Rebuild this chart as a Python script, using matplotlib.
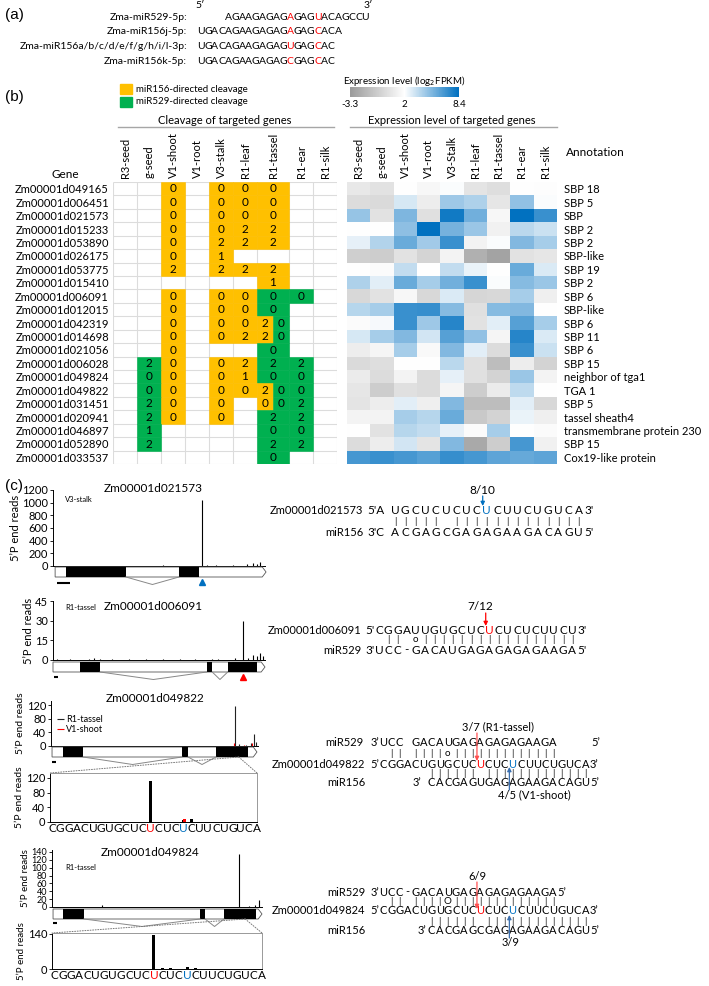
import numpy as np
import matplotlib.pyplot as plt
from matplotlib.colors import LinearSegmentedColormap, TwoSlopeNorm
from matplotlib.patches import ConnectionPatch, Rectangle, Polygon

plt.rcParams['font.family'] = ['Lato', 'DejaVu Sans']

W, H = 709, 986

# ---------------- panel (a) data
mir_names = ['Zma-miR529-5p:', 'Zma-miR156j-5p:',
             'Zma-miR156a/b/c/d/e/f/g/h/i/l-3p:', 'Zma-miR156k-5p:']
mir_seqs = ['AGAAGAGAGAGAGUACAGCCU', 'UGACAGAAGAGAGAGAGCACA',
            'UGACAGAAGAGAGUGAGCAC', 'UGACAGAAGAGAGCGAGCAC']
mir_offsets = [4, 0, 0, 0]
mir_red = [[9, 13], [13, 17], [13, 17], [13, 17]]

# ---------------- panel (b) data
tissues_cleave = ['R3-seed', 'g-seed', 'V1-shoot', 'V1-root', 'V3-stalk',
                  'R1-leaf', 'R1-tassel', 'R1-ear', 'R1-silk']
tissues_expr = ['R3-seed', 'g-seed', 'V1-shoot', 'V1-root', 'V3-Stalk',
                'R1-leaf', 'R1-tassel', 'R1-ear', 'R1-silk']
genes = ['Zm00001d049165', 'Zm00001d006451', 'Zm00001d021573', 'Zm00001d015233',
         'Zm00001d053890', 'Zm00001d026175', 'Zm00001d053775', 'Zm00001d015410',
         'Zm00001d006091', 'Zm00001d012015', 'Zm00001d042319', 'Zm00001d014698',
         'Zm00001d021056', 'Zm00001d006028', 'Zm00001d049824', 'Zm00001d049822',
         'Zm00001d031451', 'Zm00001d020941', 'Zm00001d046897', 'Zm00001d052890',
         'Zm00001d033537']
annotations = ['SBP 18', 'SBP 5', 'SBP', 'SBP 2', 'SBP 2', 'SBP-like', 'SBP 19',
               'SBP 2', 'SBP 6', 'SBP-like', 'SBP 6', 'SBP 11', 'SBP 6', 'SBP 15',
               'neighbor of tga1', 'TGA 1', 'SBP 5', 'tassel sheath4',
               'transmembrane protein 230', 'SBP 15', 'Cox19-like protein']
# o = miR156-directed, g = miR529-directed, number = degradome category
cleavage = [
    ['', '', 'o0', '', 'o0', 'o0', 'o0', '', ''],
    ['', '', 'o0', '', 'o0', 'o0', 'o0', '', ''],
    ['', '', 'o0', '', 'o0', 'o0', 'o0', '', ''],
    ['', '', 'o0', '', 'o0', 'o2', 'o2', '', ''],
    ['', '', 'o0', '', 'o2', 'o2', 'o2', '', ''],
    ['', '', 'o0', '', 'o1', '', '', '', ''],
    ['', '', 'o2', '', 'o2', 'o2', 'o2', '', ''],
    ['', '', '', '', '', '', 'o1', '', ''],
    ['', '', 'o0', '', 'o0', 'o0', 'g0', 'g0', ''],
    ['', '', 'o0', '', 'o0', 'o0', 'g0', '', ''],
    ['', '', 'o0', '', 'o0', 'o0', 'o2|g0', '', ''],
    ['', '', 'o0', '', 'o0', 'o2', 'o2|g0', '', ''],
    ['', '', 'o0', '', '', '', 'g0', '', ''],
    ['', 'g2', 'o0', '', 'o0', 'o2', 'g2', 'g2', ''],
    ['', 'g0', 'o0', '', 'o0', 'o1', 'g0', 'g0', ''],
    ['', 'g0', 'o0', '', 'o0', 'o0', 'o2|g0', 'g0', ''],
    ['', 'g2', 'o0', '', 'o0', '', 'o0|g0', 'g2', ''],
    ['', 'g2', 'o0', '', 'o0', '', 'g2', 'g2', ''],
    ['', 'g1', '', '', '', '', 'g0', 'g0', ''],
    ['', 'g2', '', '', '', '', 'g2', 'g2', ''],
    ['', '', '', '', '', '', 'g0', '', ''],
]
expr = np.array([
    [0.8, 0.5, 2.0, 1.6, 2.1, 0.6, 0.3, 2.0, 1.9],
    [0.2, 0.1, 3.0, 1.1, 4.4, 4.0, 0.7, 4.7, 2.1],
    [4.6, 0.5, 5.2, 0.4, 7.9, 5.5, 1.6, 8.3, 6.9],
    [2.0, 2.0, 4.8, 8.3, 5.4, 4.5, 1.3, 3.7, 3.3],
    [2.6, 3.9, 5.7, 4.3, 6.9, 1.4, 2.1, 5.1, 4.2],
    [-0.5, -0.6, 0.5, -0.2, 1.4, -2.1, -2.8, 0.5, 0.7],
    [2.0, 1.8, 3.5, 2.0, 3.5, 2.5, 2.0, 5.7, 2.9],
    [4.0, 2.7, 5.7, 4.2, 5.5, 6.9, 2.1, 5.0, 4.5],
    [0.0, 0.5, 1.6, 0.0, 2.9, -0.1, 0.0, 4.2, 1.2],
    [3.8, 4.2, 6.9, 7.0, 5.0, 0.4, 5.0, 5.1, 2.0],
    [1.8, 2.2, 6.9, 4.4, 7.4, 0.5, 2.7, 6.2, 4.2],
    [3.0, 4.2, 5.1, 3.1, 6.2, 4.7, 1.5, 7.4, 2.9],
    [1.1, 1.5, 4.2, 1.7, 5.1, 2.7, 0.2, 6.9, 3.3],
    [0.1, 0.3, 2.0, 2.0, 3.7, 0.4, -1.4, 1.1, -0.3],
    [1.0, 0.2, 1.4, 0.2, 2.6, 0.4, -0.3, 4.5, 1.4],
    [0.7, -0.6, 0.4, 0.2, 1.5, -0.6, 1.0, 3.6, 2.0],
    [0.6, 1.1, 2.7, 1.2, 5.1, -1.4, -1.4, 2.7, 0.0],
    [1.4, 1.4, 4.2, 3.8, 5.7, -0.8, -0.3, 2.5, 1.2],
    [2.0, 0.5, 3.8, 3.5, 2.6, 1.8, 4.2, 2.0, 1.8],
    [0.2, 1.1, 3.1, 0.6, 5.1, -2.5, -0.6, 6.6, 1.3],
    [6.6, 6.9, 6.6, 6.2, 7.0, 6.6, 6.0, 5.8, 6.0],
])
expr_min, expr_mid, expr_max = -3.3, 2, 8.4

# ---------------- panel (c) data
reads1_pos = [52, 70.3, 72.6, 77, 85, 91.5, 94.3, 96, 97.6]
reads1_val = [15, 1050, 20, 15, 20, 30, 40, 25, 60]
reads2_pos = [2, 8, 17, 19.5, 22, 28, 36, 44, 52, 60, 67, 75, 78, 86, 89.6,
              92, 94.5, 96, 97.5, 99]
reads2_val = [1, 1, 1, 1.5, 1, 0.8, 1, 0.8, 0.8, 1, 0.8, 1, 1, 1.5, 30,
              1.5, 4, 3, 5, 3]
reads3_tassel_pos = [88.8, 91, 94, 96.5, 98, 99]
reads3_tassel_val = [118, 5, 4, 10, 35, 12]
reads3_shoot_pos = [88.5, 93, 97]
reads3_shoot_val = [10, 4, 8]
reads4_pos = [24, 89, 94, 96.5, 98.6]
reads4_val = [5, 135, 3, 5, 18]

model1_span, model1_exons = (1, 100.5), [(6.1, 34.4), (59.4, 68.9)]
model2_span, model2_exons = (0, 100), [(12.7, 22.2), (72.5, 75.1), (82.4, 96.1)]
model3_span, model3_exons = (0.5, 99.5), [(5.8, 15.5), (63.3, 66.2), (79.7, 95.2)]
model4_span, model4_exons = (0.5, 100), [(5.2, 15.2), (70.5, 72.9), (81.9, 97.1)]
cut1, cut2, zoom3_at, zoom4_at = 70.3, 89.6, 90.7, 92.0

site_seq = 'CGGACUGUGCUCUCUCUCUUCUGUCA'
site_red, site_blue = 12, 16
zoom3_tassel_idx = [12, 13, 14, 16, 17, 19]
zoom3_tassel_val = [110, 1, 1, 6, 8, 1]
zoom3_shoot_idx = [12, 16]
zoom3_shoot_val = [1, 9]
zoom4_idx = [11, 12, 13, 14, 16, 17]
zoom4_val = [1, 135, 2, 2, 6, 3]

ORANGE, GREEN = '#FFC000', '#00B050'
RED, BLUE = '#FF0000', '#0070C0'

fig = plt.figure(figsize=(W / 100, H / 100), dpi=100)


def px_axes(x0, y0, x1, y1):
    return fig.add_axes([x0 / W, 1 - y1 / H, (x1 - x0) / W, (y1 - y0) / H])


# ---------------- (b) cleavage table
col_w = [24, 24, 24, 24, 24, 24, 32, 24, 24]
edges = np.concatenate([[0], np.cumsum(col_w)])
nrow = len(genes)
tab = px_axes(113, 182, 337, 464)
tab.set_xlim(0, edges[-1])
tab.set_ylim(nrow, 0)
for s in tab.spines.values():
    s.set_visible(False)
tab.vlines(edges, 0, nrow, color='#dcdcdc', lw=0.8, zorder=1)
tab.hlines(np.arange(nrow + 1), 0, edges[-1], color='#dcdcdc', lw=0.8, zorder=1)
fills = {'o': ORANGE, 'g': GREEN}
for r, row in enumerate(cleavage):
    for c, cell in enumerate(row):
        if not cell:
            continue
        parts = cell.split('|')
        w = col_w[c] / len(parts)
        for k, p in enumerate(parts):
            x0 = edges[c] + k * w
            tab.bar(x0, 1, width=w, bottom=r, align='edge', color=fills[p[0]],
                    edgecolor=fills[p[0]], lw=0.4, zorder=2)
            tab.text(x0 + w / 2, r + 0.52, p[1:], ha='center', va='center',
                     fontsize=8.5, zorder=3)
tab.xaxis.tick_top()
tab.set_xticks((edges[:-1] + edges[1:]) / 2, tissues_cleave, rotation=90, fontsize=8)
tab.set_yticks(np.arange(nrow) + 0.5, genes, fontsize=8)
tab.tick_params(length=0, pad=3)

# ---------------- (b) expression heatmap
cmap = LinearSegmentedColormap.from_list(
    'expr', [(0, '#9a9a9a'), (0.5, '#ffffff'), (1, BLUE)])
norm = TwoSlopeNorm(vmin=expr_min, vcenter=expr_mid, vmax=expr_max)
hm = px_axes(347, 182, 557, 464)
im = hm.imshow(expr, cmap=cmap, norm=norm, aspect='auto', interpolation='nearest')
for s in hm.spines.values():
    s.set_visible(False)
hm.xaxis.tick_top()
hm.yaxis.tick_right()
hm.set_xticks(range(len(tissues_expr)), tissues_expr, rotation=90, fontsize=8)
hm.set_yticks(range(nrow), annotations, fontsize=8)
hm.tick_params(length=0, pad=3)
hm.tick_params(axis='y', pad=5)

cax = px_axes(350, 87, 459, 97)
cb = fig.colorbar(im, cax=cax, orientation='horizontal')
cb.set_ticks([expr_min, expr_mid, expr_max])
cb.set_ticklabels(['-3.3', '2', '8.4'])
cb.outline.set_visible(False)
cax.tick_params(length=0, labelsize=7, pad=2)


# ---------------- (c) read plots and gene models
def reads_axes(box, ymax, yticks, tick_size=8, label_size=8):
    ax = px_axes(*box)
    ax.set_xlim(0, 100)
    ax.set_ylim(0, ymax)
    ax.set_yticks(yticks)
    ax.set_xticks([])
    ax.spines[['top', 'right']].set_visible(False)
    for s in ax.spines.values():
        s.set_linewidth(0.7)
    ax.tick_params(axis='y', length=2.5, width=0.6, labelsize=tick_size, pad=1)
    ax.set_ylabel('5’P end reads', fontsize=label_size, labelpad=1)
    return ax


def gene_model(box, span, exons, cut=None, cut_color=None, bar=(0.5, 2.5), bar_y=-0.5):
    ax = px_axes(*box)
    ax.set_xlim(0, 100)
    ax.set_ylim(-1, 1)
    ax.axis('off')
    s, e = span
    ax.add_patch(Polygon([(s, 0), (e - 1.8, 0), (e, 0.5), (e - 1.8, 1), (s, 1)],
                         closed=True, fc='white', ec='#555555', lw=0.6, clip_on=False))
    starts = [a for a, b in exons]
    widths = [b - a for a, b in exons]
    ax.bar(starts, 1, width=widths, bottom=0, align='edge', color='black', lw=0)
    for (a0, a1), (b0, b1) in zip(exons[:-1], exons[1:]):
        ax.plot([a1, (a1 + b0) / 2, b0], [0, -0.75, 0], color='#888888', lw=0.7,
                clip_on=False)
    ax.hlines(bar_y, bar[0], bar[1], color='black', lw=1.5)
    if cut is not None:
        ax.plot(cut, -0.5, marker='^', color=cut_color, ms=4, clip_on=False)
    return ax


def zoom_axes(box, seq, ymax, yticks, label_size=8):
    ax = px_axes(*box)
    ax.set_xlim(-0.25, len(seq) - 1)
    ax.set_ylim(0, ymax)
    ax.set_yticks(yticks)
    ax.set_xticks(range(len(seq)), list(seq))
    ax.tick_params(axis='x', length=0, pad=1, labelsize=8.5)
    ax.tick_params(axis='y', length=2.5, width=0.6, labelsize=8, pad=1)
    for i, t in enumerate(ax.get_xticklabels()):
        if i == site_red:
            t.set_color(RED)
        elif i == site_blue:
            t.set_color(BLUE)
    for side in ['top', 'right']:
        ax.spines[side].set_color('#999999')
    for s in ax.spines.values():
        s.set_linewidth(0.7)
    ax.set_ylabel('5’P end reads', fontsize=label_size, labelpad=1)
    return ax


a1 = reads_axes((53, 490, 265, 566), 1200, range(0, 1201, 200))
a1.vlines(reads1_pos, 0, reads1_val, color='black', lw=0.8)
gene_model((53, 567, 265, 587), model1_span, model1_exons, cut1, BLUE,
           bar=(2, 8), bar_y=-0.6)

a2 = reads_axes((53, 601, 265, 660), 45, [0, 15, 30, 45])
a2.vlines(reads2_pos, 0, reads2_val, color='black', lw=0.8)
gene_model((53, 662, 265, 682), model2_span, model2_exons, cut2, RED,
           bar=(0.5, 2.2), bar_y=-0.5)

a3 = reads_axes((51, 701, 258, 746), 132, [0, 40, 80, 120], label_size=7.5)
a3.vlines(reads3_tassel_pos, 0, reads3_tassel_val, color='#222222', lw=0.8,
          label='R1-tassel')
a3.vlines(reads3_shoot_pos, 0, reads3_shoot_val, color=RED, lw=0.8, label='V1-shoot')
a3.legend(loc='upper left', bbox_to_anchor=(0.03, 0.68), frameon=False, fontsize=6.5,
          handlelength=0.8, handletextpad=0.2, labelspacing=0.05, borderpad=0,
          borderaxespad=0)
m3 = gene_model((51, 747, 258, 767), model3_span, model3_exons)
z3 = zoom_axes((50, 773, 257, 822), site_seq, 133, [0, 40, 80, 120], label_size=7.5)
z3.bar(zoom3_tassel_idx, zoom3_tassel_val, width=0.35, color='black')
z3.bar(np.array(zoom3_shoot_idx) + 0.12, zoom3_shoot_val, width=0.35, color=RED)

a4 = reads_axes((52, 850, 262, 907), 145, range(0, 141, 20), tick_size=6.5,
                label_size=7)
a4.vlines(reads4_pos, 0, reads4_val, color='black', lw=0.8)
m4 = gene_model((52, 909, 262, 929), model4_span, model4_exons, bar_y=-0.35)
z4 = zoom_axes((52, 933, 262, 969), site_seq, 142, [0, 140], label_size=7)
z4.bar(zoom4_idx, zoom4_val, width=0.35, color='black')

for m, z, at in [(m3, z3, zoom3_at), (m4, z4, zoom4_at)]:
    for corner in [(0, 1), (1, 1)]:
        con = ConnectionPatch(xyA=(at, 0), coordsA=m.transData, xyB=corner,
                              coordsB=z.transAxes, color='#777777', lw=0.7, ls=':')
        fig.add_artist(con)

# ---------------- overlay for text
ov = fig.add_axes([0, 0, 1, 1])
ov.set_xlim(0, W)
ov.set_ylim(H, 0)
ov.axis('off')

lab_font = ['Liberation Sans', 'DejaVu Sans']
ov.text(5, 15, '(a)', fontsize=11, va='center', family=lab_font)
ov.text(5, 97, '(b)', fontsize=11, va='center', family=lab_font)
ov.text(5, 486, '(c)', fontsize=11, va='center', family=lab_font)

# panel (a)
pitch_a, x_a = 6.85, 201
ov.text(200, 5, '5′', fontsize=7.5, ha='center', va='center')
ov.text(368, 5, '3′', fontsize=7.5, ha='center', va='center')
for k, (name, seq) in enumerate(zip(mir_names, mir_seqs)):
    y = [17, 32, 46.5, 61][k]
    ov.text(187, y, name, fontsize=7.5, ha='right', va='center')
    for i, ch in enumerate(seq):
        ov.text(x_a + (i + mir_offsets[k]) * pitch_a, y, ch, fontsize=7.5, ha='center',
                va='center', color=RED if i in mir_red[k] else 'black')

# panel (b) legend / headings
ov.add_patch(Rectangle((120, 84), 12, 10, color=ORANGE))
ov.add_patch(Rectangle((120, 97), 12, 10, color=GREEN))
ov.text(136, 89, 'miR156-directed cleavage', fontsize=7, va='center')
ov.text(136, 102, 'miR529-directed cleavage', fontsize=7, va='center')
ov.text(404, 81, r'Expression level (log$_2$FPKM)', fontsize=7, ha='center', va='center')
ov.text(225, 121, 'Cleavage of targeted genes', fontsize=8, ha='center', va='center')
ov.plot([118, 334], [127, 127], color='#a6a6a6', lw=1)
ov.text(452, 121, 'Expression level of targeted genes', fontsize=8, ha='center',
        va='center')
ov.plot([350, 557], [127, 127], color='#a6a6a6', lw=1)
ov.text(65, 175, 'Gene', fontsize=8.5, ha='center', va='center')
ov.text(566, 153, 'Annotation', fontsize=8.5, va='center')

# panel (c) titles
ov.text(153, 488, 'Zm00001d021573', fontsize=8.5, ha='center', va='center')
ov.text(65, 500, 'V3-stalk', fontsize=5.5, va='center')
ov.text(65, 607, 'R1-tassel', fontsize=5.5, va='center')
ov.text(153, 607, 'Zm00001d006091', fontsize=8.5, ha='center', va='center')
ov.text(155, 699, 'Zm00001d049822', fontsize=8.5, ha='center', va='center')
ov.text(150, 853, 'Zm00001d049824', fontsize=8.5, ha='center', va='center')
ov.text(65, 867, 'R1-tassel', fontsize=5.5, va='center')


def seq_text(x0, y, seq, pitch, size=8, colors=None, prefix=None, suffix=None,
             gap=0.55, suffix_at=None):
    colors = colors or {}
    idx = [i for i, ch in enumerate(seq) if ch != ' ']
    for i in idx:
        ov.text(x0 + i * pitch, y, seq[i], ha='center', va='center', fontsize=size,
                color=colors.get(i, 'black'))
    if prefix:
        ov.text(x0 + (idx[0] - gap) * pitch, y, prefix, ha='right', va='center',
                fontsize=size)
    if suffix:
        at = suffix_at if suffix_at is not None else idx[-1] + 0.55
        ov.text(x0 + at * pitch, y, suffix, ha='left', va='center', fontsize=size)


def arrow(x, y0, y1, color):
    ov.annotate('', xy=(x, y1), xytext=(x, y0),
                arrowprops=dict(arrowstyle='-|>', color=color, lw=0.9, shrinkA=0,
                                shrinkB=0, mutation_scale=6))


# alignment 1
x0, p = 395, 10.2
ov.text(363, 510, 'Zm00001d021573', fontsize=8, ha='right', va='center')
ov.text(363, 533, 'miR156', fontsize=8, ha='right', va='center')
seq_text(x0, 510, 'UGCUCUCUCUCUUCUGUCA', p, 8.5, {9: BLUE}, "5'A", "3'", gap=1.0)
seq_text(x0, 522, '||||| |||||||||||||', p, 7)
seq_text(x0, 533, 'ACGAGCGAGAGAAGACAGU', p, 8.5, None, "3'C", "5'", gap=1.0)
ov.text(482, 491, '8/10', fontsize=8.5, ha='center', va='center')
arrow(x0 + 8.6 * p, 496, 506, BLUE)

# alignment 2
x0, p = 379, 9.2
ov.text(361, 630, 'Zm00001d006091', fontsize=8, ha='right', va='center')
ov.text(361, 650, 'miR529', fontsize=8, ha='right', va='center')
seq_text(x0, 630, 'CGGAUUGUGCUCUCUCUCUUCU', p, 8.5, {12: RED}, "5'", "3'", gap=0.5)
seq_text(x0, 640, ' || o|||||||||||||||||', p, 7)
seq_text(x0, 650, 'UCC-GACAUGAGAGAGAGAAGA', p, 8.5, None, "3'", "5'", gap=0.5)
ov.text(480, 607, '7/12', fontsize=8.5, ha='center', va='center')
arrow(x0 + 11.6 * p, 613, 626, RED)

# alignment 3
x0, p = 383, 8.1
ov.text(364, 743, 'miR529', fontsize=8, ha='right', va='center')
ov.text(365, 764, 'Zm00001d049822', fontsize=8, ha='right', va='center')
ov.text(365, 783, 'miR156', fontsize=8, ha='right', va='center')
seq_text(x0, 743, 'UCC GACAUGAGAGAGAGAAGA', p, 8, None, '3’', '5’', suffix_at=25.7,
         gap=0.5)
seq_text(x0, 753, ' || ||||o|||||||||||||', p, 7)
seq_text(x0, 764, site_seq, p, 8, {site_red: RED, site_blue: BLUE}, '5’', '3’', gap=0.5)
seq_text(x0, 773, '      |||||| |||||||||||||', p, 7)
seq_text(x0, 783, '      CACGAGUGAGAGAAGACAGU', p, 8, None, '3’', '5’', gap=1.3)
ov.text(498, 727, '3/7 (R1-tassel)', fontsize=8, ha='center', va='center')
ov.text(534, 795, '4/5 (V1-shoot)', fontsize=8, ha='center', va='center')
arrow(x0 + 11.6 * p, 733, 761, '#ff5050')
arrow(x0 + 15.6 * p, 790, 767, '#3a6fb0')

# alignment 4
ov.text(365, 892, 'miR529', fontsize=8, ha='right', va='center')
ov.text(365, 911, 'Zm00001d049824', fontsize=8, ha='right', va='center')
ov.text(365, 931, 'miR156', fontsize=8, ha='right', va='center')
seq_text(x0, 892, 'UCC-GACAUGAGAGAGAGAAGA', p, 8, None, '3’', '5’', gap=0.5)
seq_text(x0, 902, ' || ||||O|||||||||||||', p, 7)
seq_text(x0, 911, site_seq, p, 8, {site_red: RED, site_blue: BLUE}, '5’', '3’', gap=0.5)
seq_text(x0, 922, '      |||||| |||||||||||||', p, 7)
seq_text(x0, 931, '      CACGAGCGAGAGAAGACAGU', p, 8, None, '3’', '5’', gap=0.6)
ov.text(477, 877, '6/9', fontsize=8, ha='center', va='center')
ov.text(511, 943, '3/9', fontsize=8, ha='center', va='center')
arrow(x0 + 11.6 * p, 882, 909, '#ff5050')
arrow(x0 + 15.6 * p, 938, 915, '#3a6fb0')

fig.savefig('out.png', dpi=100)
